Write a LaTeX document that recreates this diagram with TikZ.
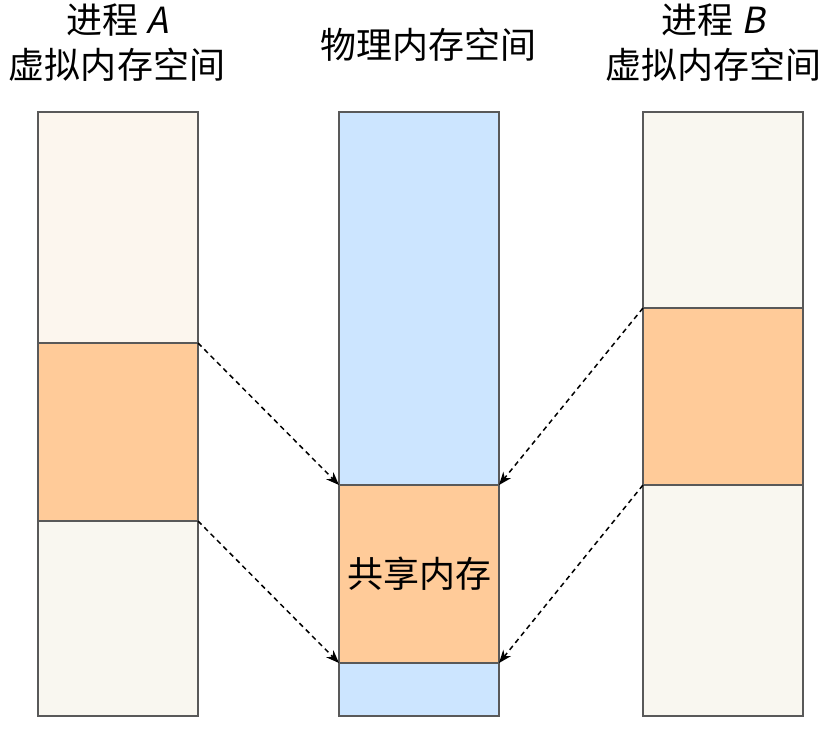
\documentclass[tikz,border=0pt]{standalone}
\usepackage{fontspec}
\setmainfont[AutoFakeSlant=0.2]{Noto Sans CJK SC}
\usetikzlibrary{arrows.meta}
\definecolor{edgegray}{HTML}{595959}
\definecolor{shmorange}{HTML}{FFCB99}
\definecolor{physblue}{HTML}{CCE5FF}
\definecolor{vtop}{HTML}{FCF6EE}
\definecolor{vbot}{HTML}{F9F7F0}
\tikzset{
  block/.style={draw=edgegray, line width=1.3pt, anchor=north west, minimum width=160pt, inner sep=0pt, outer sep=0pt},
  title/.style={align=center, font=\fontsize{36}{45}\selectfont},
  mapping/.style={dash pattern=on 5pt off 4pt, line width=1.5pt, -{Stealth[length=13pt, width=10pt, inset=4pt]}}
}
\begin{document}
\begin{tikzpicture}[x=1pt, y=-1pt]
    \useasboundingbox[fill=white] (0,0) rectangle (821,731);
    \node[title] (labelA) at (117,43) {进程 \textit{A}\\虚拟内存空间};
    \node[title] (labelPhys) at (428,45) {物理内存空间};
    \node[title] (labelB) at (713,43) {进程 \textit{B}\\虚拟内存空间};
    \node[block, fill=vtop, minimum height=231pt] (aTop) at (38,112) {};
    \node[block, fill=shmorange, minimum height=178pt] (aShm) at (38,343) {};
    \node[block, fill=vbot, minimum height=195pt] (aBot) at (38,521) {};
    \node[block, fill=physblue, minimum height=604pt] (phys) at (339,112) {};
    \node[block, fill=shmorange, minimum height=178pt, font=\fontsize{36}{40}\selectfont] (shm) at (339,485) {共享内存};
    \node[block, fill=vbot, minimum height=196pt] (bTop) at (643,112) {};
    \node[block, fill=shmorange, minimum height=177pt] (bShm) at (643,308) {};
    \node[block, fill=vbot, minimum height=231pt] (bBot) at (643,485) {};
    \draw[mapping] (aShm.north east) -- (shm.north west);
    \draw[mapping] (aShm.south east) -- (shm.south west);
    \draw[mapping] (bShm.north west) -- (shm.north east);
    \draw[mapping] (bShm.south west) -- (shm.south east);
\end{tikzpicture}
\end{document}
